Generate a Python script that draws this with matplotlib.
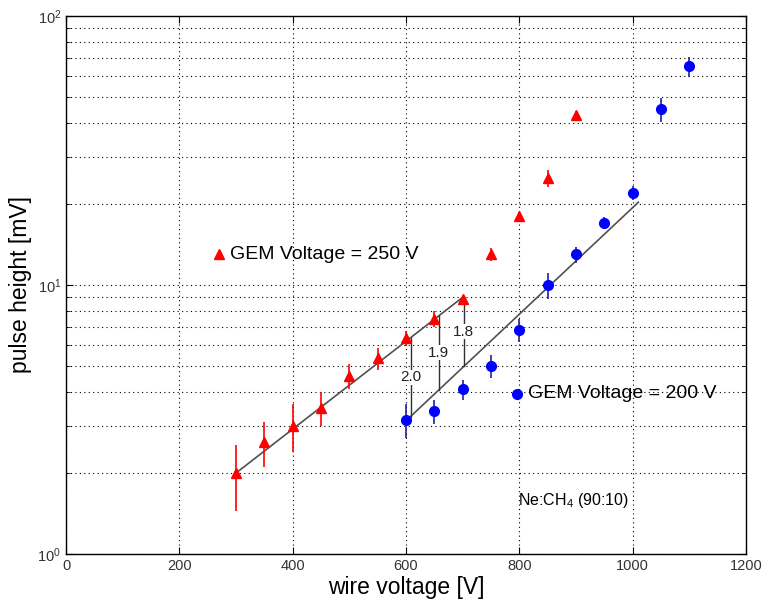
import matplotlib
matplotlib.use("Agg")
import matplotlib.pyplot as plt
import numpy as np
from matplotlib.ticker import LogLocator, NullFormatter, FixedLocator

plt.rcParams['font.family'] = ['Liberation Sans', 'DejaVu Sans']
plt.rcParams['mathtext.fontset'] = 'custom'
plt.rcParams['mathtext.rm'] = 'Liberation Sans'

# GEM 250 V (red triangles)
x250 = [300, 350, 400, 450, 500, 550, 600, 650, 700, 750, 800, 850, 900]
y250 = [2.0, 2.6, 3.0, 3.5, 4.6, 5.35, 6.35, 7.5, 8.9, 13.0, 18.0, 25.0, 43.0]
e250 = [0.55, 0.5, 0.6, 0.5, 0.5, 0.5, 0.4, 0.5, 0.3, 0.7, 0.6, 1.8, 1.5]

# GEM 200 V (blue circles)
x200 = [600, 650, 700, 750, 800, 850, 900, 950, 1000, 1050, 1100]
y200 = [3.15, 3.4, 4.1, 5.0, 6.8, 10.0, 13.0, 17.0, 22.0, 45.0, 65.0]
e200 = [0.45, 0.35, 0.35, 0.5, 0.65, 1.1, 0.9, 0.9, 1.3, 4.5, 5.5]

# fitted lines (endpoints)
fit250_x = [300, 700]
fit250_y = [2.0, 9.0]
fit200_x = [605, 1010]
fit200_y = [3.2, 20.3]

# ratio markers
ratio_x = [608, 658, 702]
ratio_labels = ["2.0", "1.9", "1.8"]

xticks = [0, 200, 400, 600, 800, 1000, 1200]


def logfit(xs, ys, x):
    return 10 ** np.interp(x, xs, np.log10(ys))


fig = plt.figure(figsize=(7.65, 6.05), dpi=100)
ax = fig.add_axes([0.0863, 0.0843, 0.8889, 0.8893])

ax.set_yscale('log')
ax.set_xlim(0, 1200)
ax.set_ylim(1, 100)

ax.errorbar(x250, y250, yerr=e250, fmt='^', color='red', ecolor='red',
            markersize=7, elinewidth=1.2, capsize=0, zorder=4)
ax.errorbar(x200, y200, yerr=e200, fmt='o', color='blue', ecolor='#2020a0',
            markersize=7, elinewidth=1.2, capsize=0, zorder=4)

fx = np.linspace(fit250_x[0], fit250_x[1], 50)
ax.plot(fx, logfit(fit250_x, fit250_y, fx), color='#505050', lw=1.2, zorder=3)
fx = np.linspace(fit200_x[0], fit200_x[1], 50)
ax.plot(fx, logfit(fit200_x, fit200_y, fx), color='#505050', lw=1.2, zorder=3)

for xr, lab in zip(ratio_x, ratio_labels):
    top = logfit(fit250_x, fit250_y, xr)
    bot = logfit(fit200_x, fit200_y, xr)
    ax.plot([xr, xr], [bot, top], color='#303030', lw=1.0, zorder=3)
    ax.text(xr, np.sqrt(top * bot), lab, ha='center', va='center', fontsize=11,
            color='#222222', zorder=5,
            bbox=dict(facecolor='white', edgecolor='none', pad=0.3))

# in-plot legends
ax.plot([270], [13.0], '^', color='red', markersize=7)
ax.text(290, 13.0, "GEM Voltage = 250 V", fontsize=14, va='center', ha='left')
ax.plot([795], [3.95], 'o', color='blue', markersize=7)
ax.text(815, 3.95, "GEM Voltage = 200 V", fontsize=14, va='center', ha='left')
ax.text(797, 1.58, r"Ne:CH$_4$ (90:10)", fontsize=11.5, va='center', ha='left')

ax.xaxis.set_major_locator(FixedLocator(xticks))
ax.set_xticklabels([str(t) for t in xticks])
ax.yaxis.set_major_locator(LogLocator(base=10))
ax.yaxis.set_minor_locator(LogLocator(base=10, subs=np.arange(2, 10)))
ax.yaxis.set_minor_formatter(NullFormatter())

ax.grid(True, which='major', axis='x', linestyle=(0, (1, 3)), color='black', lw=0.8)
ax.grid(True, which='both', axis='y', linestyle=(0, (1, 3)), color='black', lw=0.8)

ax.tick_params(which='both', direction='in', top=True, right=True, labelsize=10.5,
               labelcolor='#333333')
ax.tick_params(which='major', length=5)
ax.tick_params(which='minor', length=3)
for s in ax.spines.values():
    s.set_linewidth(1.0)

ax.set_xlabel("wire voltage [V]", fontsize=16.5, labelpad=2)
ax.set_ylabel("pulse height [mV]", fontsize=16.5, labelpad=4)

fig.savefig("out.png", dpi=100)
